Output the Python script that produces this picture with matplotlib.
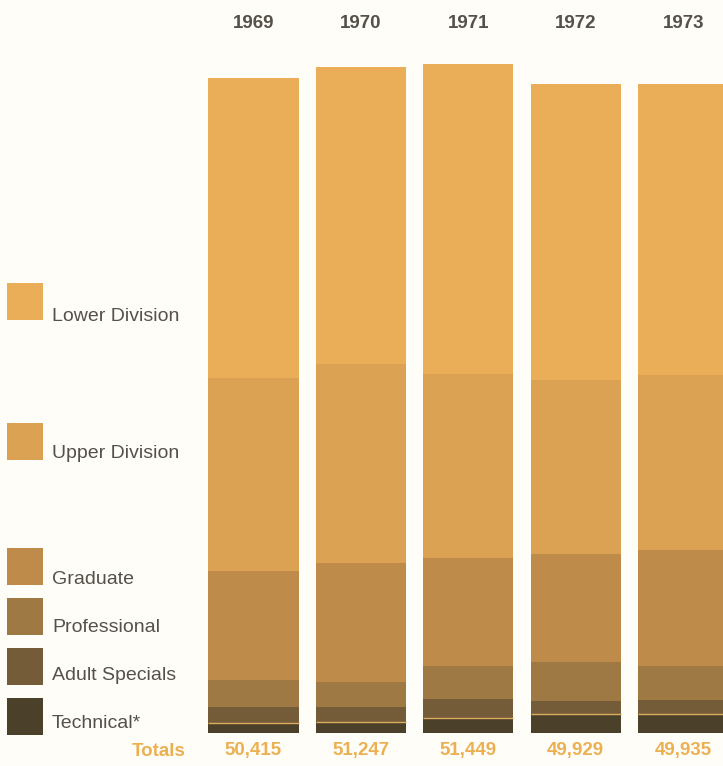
import matplotlib
matplotlib.use('Agg')
import matplotlib.pyplot as plt
import numpy as np
from matplotlib.patches import Rectangle

plt.rcParams['font.family'] = ['Liberation Sans', 'DejaVu Sans']

years = ['1969', '1970', '1971', '1972', '1973']
totals = [50415, 51247, 51449, 49929, 49935]

# enrollment by level, bottom to top
technical = [770, 848, 1150, 1471, 1469]
adult_specials = [1220, 1156, 1457, 1006, 1082]
professional = [2070, 1927, 2530, 3019, 2628]
graduate = [8420, 9170, 8358, 8283, 8889]
upper_division = [14840, 15258, 14109, 13392, 13450]
lower_division = [23095, 22888, 23845, 22758, 22417]

levels = ['Technical*', 'Adult Specials', 'Professional', 'Graduate',
          'Upper Division', 'Lower Division']
series = [technical, adult_specials, professional, graduate,
          upper_division, lower_division]
colors = ['#4b4029', '#735c37', '#9e7943', '#bf8b4a', '#daa252', '#e9ae57']

W, H = 723, 766
ytop = 56385
px = 733 / ytop  # pixels per student
fig = plt.figure(figsize=(W / 100, H / 100), dpi=100)
fig.patch.set_facecolor('#fffdf8')

# axes spans the full width; the last bar runs off the right edge
ax = fig.add_axes([0, 33 / H, 1, 733 / H])
ax.set_xlim(-2.36, 4.371)
ax.set_ylim(0, ytop)
ax.axis('off')

x = np.arange(len(years))
bw = 0.84
bottom = np.zeros(len(years))
for vals, c in zip(series, colors):
    ax.bar(x, vals, width=bw, bottom=bottom, color=c, linewidth=0)
    bottom += np.array(vals)

# thin light rule between technical and adult specials
ax.hlines(technical, x - bw / 2, x + bw / 2, colors='#dcad60', linewidth=1.0)

label_grey = '#55504a'
orange = '#ecb052'
for xi, yr, tot in zip(x, years, totals):
    ax.text(xi, ytop - 23 / px, yr, ha='center', va='center',
            fontsize=13.5, fontweight='bold', color=label_grey)
    ax.text(xi, -18 / px, f'{tot:,}', ha='center', va='center',
            fontsize=13.5, fontweight='bold', color=orange, clip_on=False)

fig.text(186 / W, 1 - 752 / H, 'Totals', ha='right', va='center',
         fontsize=13.5, fontweight='bold', color=orange)

# legend swatches with labels below-right
swatch_top = [283, 423, 548, 598, 648, 698]
text_y = [316, 453, 579, 627, 676, 723]
legend_order = list(zip(levels, colors))[::-1]
for (name, c), ty, sy in zip(legend_order, text_y, swatch_top):
    fig.patches.append(Rectangle((7 / W, 1 - (sy + 37) / H), 36 / W, 37 / H,
                                 transform=fig.transFigure, color=c,
                                 linewidth=0))
    fig.text(52 / W, 1 - ty / H, name, ha='left', va='center',
             fontsize=14, color=label_grey)

plt.savefig('out.png', dpi=100, facecolor=fig.get_facecolor())
